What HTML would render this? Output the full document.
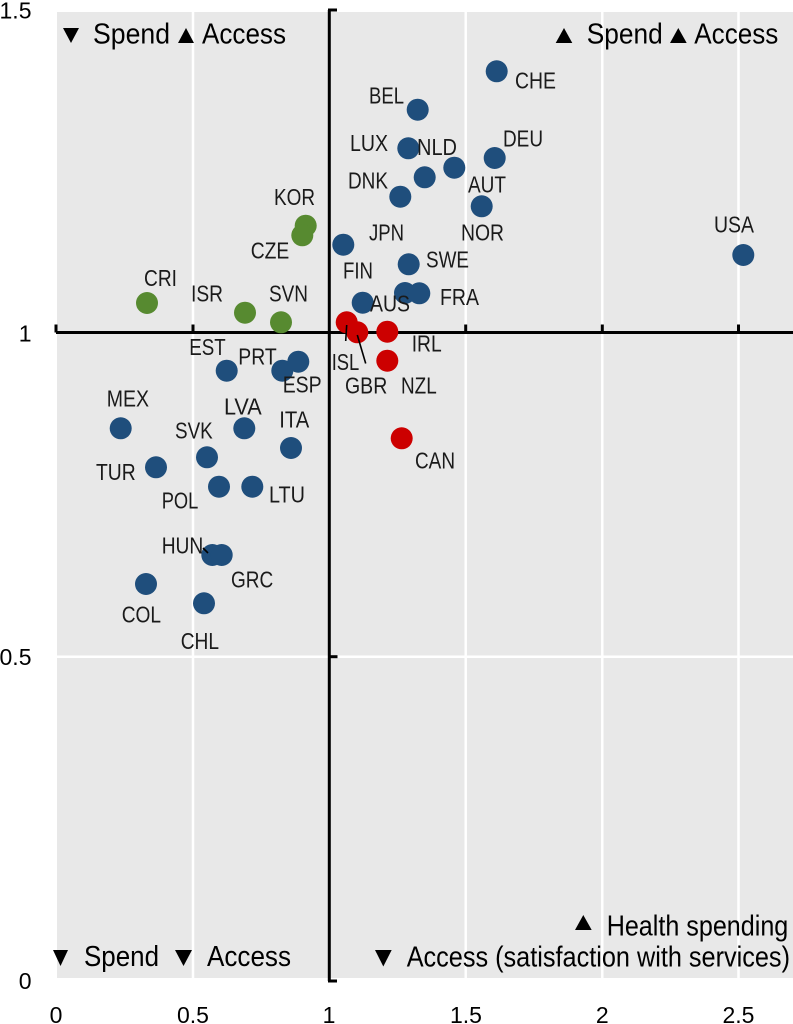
<!DOCTYPE html>
<html>
<head>
<meta charset="utf-8">
<style>
html,body{margin:0;padding:0;background:#fff;}
svg{display:block;}
text{font-family:"Liberation Sans Narrow","Liberation Sans",sans-serif;fill:#1a1a1a;}
.q{font-size:29px;fill:#000;}
.l{font-size:23px;}
.t{font-size:23px;fill:#000;}
</style>
</head>
<body>
<svg width="793" height="1024" viewBox="0 0 793 1024" xmlns="http://www.w3.org/2000/svg">
<!-- plot background -->
<rect x="57" y="12" width="736" height="966" fill="#e8e8e8"/>
<!-- gridlines -->
<g stroke="#ffffff" stroke-width="2.5">
<line x1="193" y1="12" x2="193" y2="978"/>
<line x1="465.7" y1="12" x2="465.7" y2="978"/>
<line x1="602.3" y1="12" x2="602.3" y2="978"/>
<line x1="738.5" y1="12" x2="738.5" y2="978"/>
<line x1="57" y1="656.7" x2="793" y2="656.7"/>
</g>
<!-- axes -->
<g stroke="#000" stroke-width="3" fill="none">
<line x1="56" y1="332.5" x2="793" y2="332.5"/>
<line x1="56" y1="324.5" x2="56" y2="332.5"/>
<line x1="193" y1="324.5" x2="193" y2="332.5"/>
<line x1="465.7" y1="324.5" x2="465.7" y2="332.5"/>
<line x1="602.3" y1="324.5" x2="602.3" y2="332.5"/>
<line x1="738.5" y1="324.5" x2="738.5" y2="332.5"/>
<line x1="329.3" y1="10" x2="329.3" y2="981"/>
<line x1="328" y1="10" x2="337" y2="10"/>
<line x1="328" y1="981" x2="337" y2="981"/>
<line x1="328" y1="656.7" x2="337.5" y2="656.7"/>
</g>
<!-- blue points -->
<g fill="#1f4e7c">
<circle cx="496.7" cy="71.3" r="11"/>
<circle cx="417.7" cy="109.7" r="11"/>
<circle cx="408.3" cy="148.3" r="11"/>
<circle cx="424.7" cy="177.3" r="11"/>
<circle cx="454.3" cy="167.7" r="11"/>
<circle cx="494.7" cy="158" r="11"/>
<circle cx="400.3" cy="196.7" r="11"/>
<circle cx="481.7" cy="206.3" r="11"/>
<circle cx="343.3" cy="244.7" r="11"/>
<circle cx="408.7" cy="264.3" r="11"/>
<circle cx="743.3" cy="255" r="11"/>
<circle cx="405" cy="293" r="11"/>
<circle cx="419.3" cy="293.3" r="11"/>
<circle cx="362.7" cy="302.7" r="11"/>
<circle cx="226.7" cy="370.7" r="11"/>
<circle cx="282.3" cy="370.7" r="11"/>
<circle cx="298.3" cy="361.7" r="11"/>
<circle cx="120.7" cy="428.3" r="11"/>
<circle cx="244.3" cy="428.3" r="11"/>
<circle cx="291" cy="448" r="11"/>
<circle cx="207" cy="457.3" r="11"/>
<circle cx="156" cy="467.3" r="11"/>
<circle cx="219" cy="486.7" r="11"/>
<circle cx="252.3" cy="486.7" r="11"/>
<circle cx="212.3" cy="555" r="11"/>
<circle cx="221.7" cy="555" r="11"/>
<circle cx="146" cy="584" r="11"/>
<circle cx="204" cy="603.3" r="11"/>
</g>
<!-- green points -->
<g fill="#578a30">
<circle cx="305.7" cy="225.7" r="11"/>
<circle cx="302.3" cy="235.3" r="11"/>
<circle cx="147" cy="303" r="11"/>
<circle cx="245" cy="312.7" r="11"/>
<circle cx="281" cy="322.3" r="11"/>
</g>
<!-- red points -->
<g fill="#cc0000">
<circle cx="346.7" cy="322.3" r="11"/>
<circle cx="357.3" cy="332.3" r="11"/>
<circle cx="387.3" cy="331.7" r="11"/>
<circle cx="387.3" cy="360.7" r="11"/>
<circle cx="401.7" cy="438.3" r="11"/>
</g>
<!-- leader lines -->
<g stroke="#000" stroke-width="1.6">
<line x1="346.7" y1="325" x2="345.7" y2="341"/>
<line x1="357.3" y1="335" x2="365.7" y2="363.5"/>
<line x1="203" y1="548" x2="208" y2="553"/>
</g>
<!-- country labels -->
<g class="l" lengthAdjust="spacingAndGlyphs">
<text x="515" y="88.3" textLength="41" lengthAdjust="spacingAndGlyphs">CHE</text>
<text x="369" y="103.3" textLength="35" lengthAdjust="spacingAndGlyphs">BEL</text>
<text x="350" y="151" textLength="38" lengthAdjust="spacingAndGlyphs">LUX</text>
<text x="417" y="155" textLength="40" lengthAdjust="spacingAndGlyphs">NLD</text>
<text x="503" y="146.6" textLength="40" lengthAdjust="spacingAndGlyphs">DEU</text>
<text x="348" y="188.3" textLength="40" lengthAdjust="spacingAndGlyphs">DNK</text>
<text x="468" y="192.3" textLength="38" lengthAdjust="spacingAndGlyphs">AUT</text>
<text x="461" y="240.3" textLength="43" lengthAdjust="spacingAndGlyphs">NOR</text>
<text x="369" y="240.3" textLength="35" lengthAdjust="spacingAndGlyphs">JPN</text>
<text x="343" y="278.3" textLength="30" lengthAdjust="spacingAndGlyphs">FIN</text>
<text x="426" y="267.3" textLength="43" lengthAdjust="spacingAndGlyphs">SWE</text>
<text x="440" y="305" textLength="39" lengthAdjust="spacingAndGlyphs">FRA</text>
<text x="370" y="311.6" textLength="40" lengthAdjust="spacingAndGlyphs">AUS</text>
<text x="714" y="232.6" textLength="40" lengthAdjust="spacingAndGlyphs">USA</text>
<text x="411.7" y="351.6" textLength="30" lengthAdjust="spacingAndGlyphs">IRL</text>
<text x="331.7" y="370" textLength="27.6" lengthAdjust="spacingAndGlyphs">ISL</text>
<text x="345" y="393.3" textLength="42.3" lengthAdjust="spacingAndGlyphs">GBR</text>
<text x="401" y="393.3" textLength="35.7" lengthAdjust="spacingAndGlyphs">NZL</text>
<text x="415" y="468.3" textLength="40" lengthAdjust="spacingAndGlyphs">CAN</text>
<text x="274" y="205" textLength="41" lengthAdjust="spacingAndGlyphs">KOR</text>
<text x="250.7" y="258.3" textLength="38.6" lengthAdjust="spacingAndGlyphs">CZE</text>
<text x="144" y="286" textLength="33" lengthAdjust="spacingAndGlyphs">CRI</text>
<text x="191" y="301.6" textLength="32" lengthAdjust="spacingAndGlyphs">ISR</text>
<text x="269" y="301.6" textLength="39" lengthAdjust="spacingAndGlyphs">SVN</text>
<text x="189.3" y="355" textLength="36.4" lengthAdjust="spacingAndGlyphs">EST</text>
<text x="238.3" y="364.3" textLength="38.4" lengthAdjust="spacingAndGlyphs">PRT</text>
<text x="282.7" y="392.3" textLength="39" lengthAdjust="spacingAndGlyphs">ESP</text>
<text x="106.7" y="406.6" textLength="42.3" lengthAdjust="spacingAndGlyphs">MEX</text>
<text x="224" y="414.3" textLength="37.7" lengthAdjust="spacingAndGlyphs">LVA</text>
<text x="279.3" y="427.6" textLength="30" lengthAdjust="spacingAndGlyphs">ITA</text>
<text x="175" y="438.3" textLength="37.7" lengthAdjust="spacingAndGlyphs">SVK</text>
<text x="96" y="480" textLength="39.7" lengthAdjust="spacingAndGlyphs">TUR</text>
<text x="161.7" y="508.3" textLength="36.6" lengthAdjust="spacingAndGlyphs">POL</text>
<text x="269" y="502.3" textLength="36" lengthAdjust="spacingAndGlyphs">LTU</text>
<text x="161.7" y="553.3" textLength="41.6" lengthAdjust="spacingAndGlyphs">HUN</text>
<text x="231" y="587.6" textLength="42.3" lengthAdjust="spacingAndGlyphs">GRC</text>
<text x="121.7" y="622.3" textLength="39.3" lengthAdjust="spacingAndGlyphs">COL</text>
<text x="180.7" y="649" textLength="38.3" lengthAdjust="spacingAndGlyphs">CHL</text>
</g>
<!-- quadrant annotations -->
<g fill="#000">
<polygon points="63,28 79,28 71,43"/>
<polygon points="178,43 194,43 186,28"/>
<polygon points="555.7,43 572.3,43 564,28"/>
<polygon points="670,43 686.7,43 678.3,28"/>
<polygon points="53,950 68,950 60.5,966"/>
<polygon points="175,950 192,950 183.5,966"/>
<polygon points="575,930 591.7,930 583.3,915"/>
<polygon points="375,950 391.7,950 383.3,966.5"/>
</g>
<text class="q" x="93" y="43.3" textLength="77" lengthAdjust="spacingAndGlyphs">Spend</text>
<text class="q" x="202" y="43.3" textLength="84" lengthAdjust="spacingAndGlyphs">Access</text>
<text class="q" x="586.7" y="43.3" textLength="76" lengthAdjust="spacingAndGlyphs">Spend</text>
<text class="q" x="694.3" y="43.3" textLength="84" lengthAdjust="spacingAndGlyphs">Access</text>
<text class="q" x="84" y="966" textLength="75" lengthAdjust="spacingAndGlyphs">Spend</text>
<text class="q" x="207" y="966" textLength="84" lengthAdjust="spacingAndGlyphs">Access</text>
<text class="q" x="606.7" y="935.7" textLength="181.6" lengthAdjust="spacingAndGlyphs">Health spending</text>
<text class="q" x="406.7" y="966.7" textLength="383.3" lengthAdjust="spacingAndGlyphs">Access (satisfaction with services)</text>
<!-- y tick labels -->
<text class="t" x="31.5" y="18.3" text-anchor="end">1.5</text>
<text class="t" x="31.5" y="341.7" text-anchor="end">1</text>
<text class="t" x="31.5" y="664.8" text-anchor="end">0.5</text>
<text class="t" x="31.5" y="989" text-anchor="end">0</text>
<!-- x tick labels -->
<text class="t" x="56" y="1023" text-anchor="middle">0</text>
<text class="t" x="193" y="1023" text-anchor="middle">0.5</text>
<text class="t" x="329" y="1023" text-anchor="middle">1</text>
<text class="t" x="466" y="1023" text-anchor="middle">1.5</text>
<text class="t" x="602.3" y="1023" text-anchor="middle">2</text>
<text class="t" x="738.5" y="1023" text-anchor="middle">2.5</text>
</svg>
</body>
</html>
